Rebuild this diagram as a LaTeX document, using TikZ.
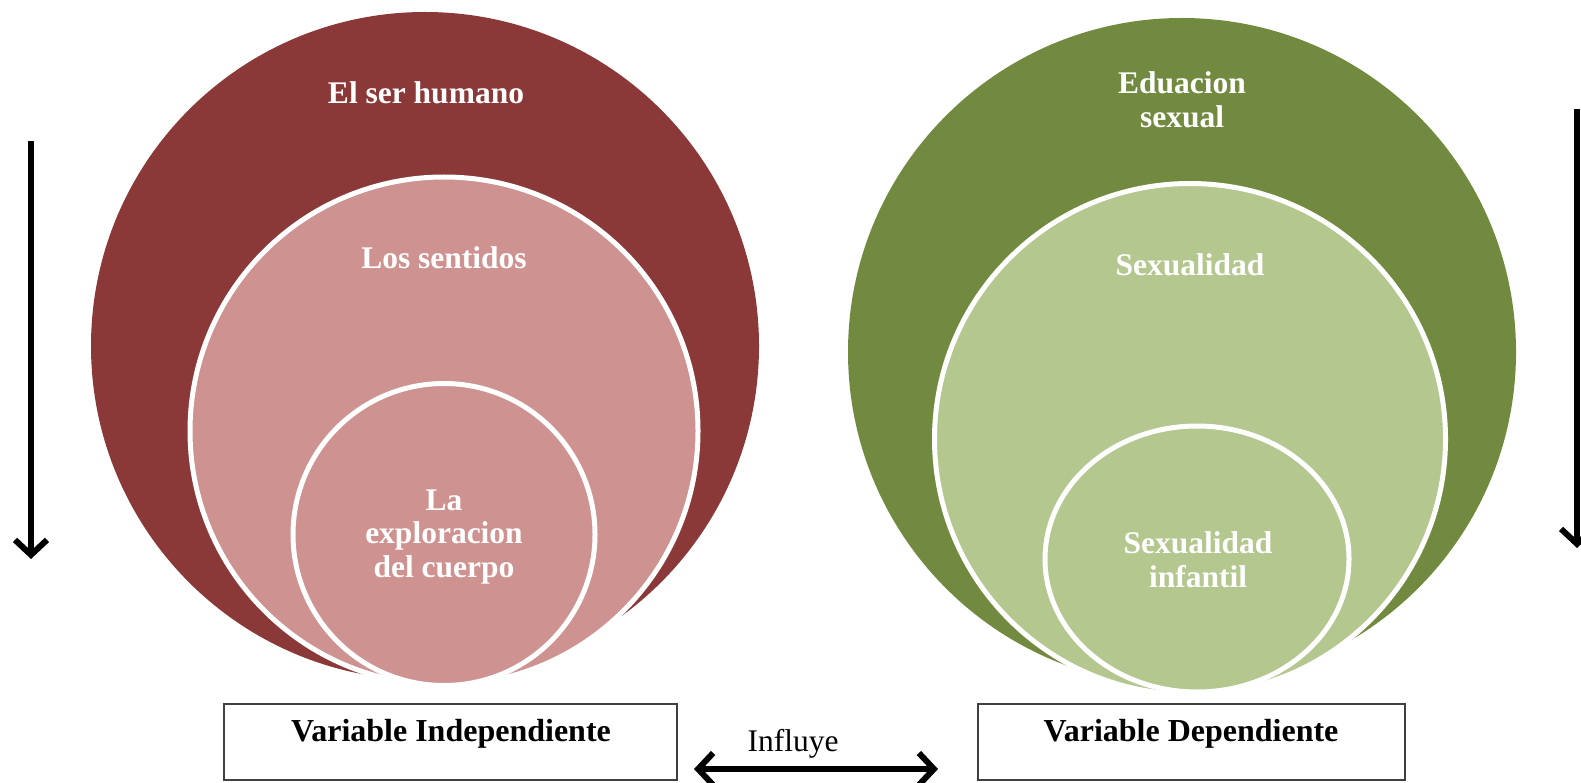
\documentclass[tikz,border=0pt]{standalone}
\usepackage{fontspec}
\setmainfont{Liberation Serif}
\usetikzlibrary{arrows.meta,shapes.geometric}
\definecolor{redA}{HTML}{8B3838}
\definecolor{redB}{HTML}{CE9290}
\definecolor{greenA}{HTML}{728A3F}
\definecolor{greenB}{HTML}{B3C78F}
\begin{document}
\begin{tikzpicture}[x=1pt,y=-1pt,
  outerc/.style={circle,inner sep=0pt,minimum size=#1},
  innerc/.style={circle,inner sep=0pt,draw=white,line width=5pt,minimum size=#1},
  lbl/.style={text=white,font=\fontsize{31.5}{33.5}\selectfont\bfseries,align=center,inner sep=0pt},
  boxlbl/.style={text=black,font=\fontsize{32}{34}\selectfont\bfseries,inner sep=0pt},
  varbox/.style={draw=black!75,line width=2pt,minimum height=76pt,inner sep=0pt},
  bigarrow/.style={line width=6pt,-{Straight Barb[length=15pt,width=32pt]}},
  dblarrow/.style={line width=6pt,{Straight Barb[length=15pt,width=32pt]}-{Straight Barb[length=15pt,width=32pt]}}]
\useasboundingbox (0,0) rectangle (1581,783);
% left target
\node[outerc=668pt,fill=redA] (ro) at (425,346) {};
\node[innerc=508pt,fill=redB] (rm) at (444,431) {};
\node[innerc=302pt,fill=redB] (ri) at (444,534.5) {};
\node[lbl] (t1) at (426,93) {El ser humano};
\node[lbl] (t2) at (444,257.5) {Los sentidos};
\node[lbl] (t3) at (444,537) {La\\exploracion\\del cuerpo};
% right target
\node[outerc=668pt,fill=greenA] (go) at (1182,352) {};
\node[innerc=511pt,fill=greenB] (gm) at (1190,439) {};
\node[ellipse,inner sep=0pt,draw=white,line width=5pt,minimum width=304pt,minimum height=266pt,fill=greenB] (gi) at (1197,559) {};
\node[lbl] (t4) at (1182,100) {Eduacion\\sexual};
\node[lbl] (t5) at (1190,265) {Sexualidad};
\node[lbl] (t6) at (1198,559.5) {Sexualidad\\infantil};
% boxes
\node[varbox,minimum width=453pt] (vb1) at (450.5,741.5) {};
\node[varbox,minimum width=427pt] (vb2) at (1191.5,741.5) {};
\node[boxlbl] (b1) at (451,734) {Variable Independiente};
\node[boxlbl] (b2) at (1191,734) {Variable Dependiente};
% arrows
\coordinate (la1) at (31,141);
\coordinate (la2) at (31,559);
\draw[bigarrow] (la1) -- (la2);
\coordinate (ra1) at (1577,109);
\coordinate (ra2) at (1577,548);
\draw[bigarrow] (ra1) -- (ra2);
\coordinate (ba1) at (694,769);
\coordinate (ba2) at (938,769);
\draw[dblarrow] (ba1) -- (ba2);
\node[font=\fontsize{31.5}{33}\selectfont,inner sep=0pt] (inf) at (793,744) {Influye};
\end{tikzpicture}
\end{document}
